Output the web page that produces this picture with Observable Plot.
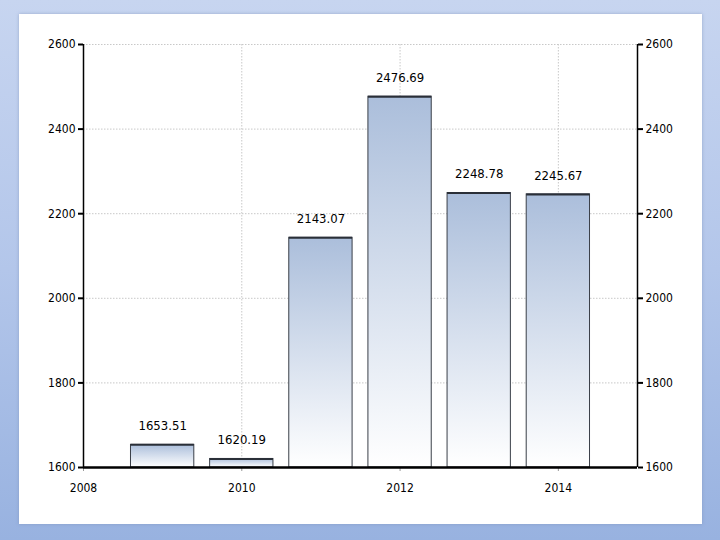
<!DOCTYPE html>
<html>
<head>
<meta charset="utf-8">
<script src="https://cdn.jsdelivr.net/npm/d3@7"></script>
<script src="https://cdn.jsdelivr.net/npm/@observablehq/plot@0.6"></script>
<style>
  html, body { margin: 0; padding: 0; }
  body { width: 720px; height: 540px; overflow: hidden; position: relative;
         background: linear-gradient(to bottom, #c7d5f0 0%, #b3c6ea 50%, #98b2e0 100%); }
  #panel { position: absolute; left: 19px; top: 14px; width: 683px; height: 510px;
           background: #ffffff; box-shadow: 0 0 3px rgba(120,140,180,0.6); }
  #chart { position: absolute; left: 0; top: 0; }
  #chart svg { background: transparent; font-stretch: condensed; }
  #chart svg text { font-stretch: condensed; }
</style>
</head>
<body>
<div id="panel"></div>
<div id="chart"></div>
<script>
const years = [2009, 2010, 2011, 2012, 2013, 2014];
const values = [1653.51, 1620.19, 2143.07, 2476.69, 2248.78, 2245.67];
const yTicks = [1600, 1800, 2000, 2200, 2400, 2600];
const xTicks = [2008, 2010, 2012, 2014];
const xGrid = [2010, 2012, 2014];
const yGrid = [1800, 2000, 2200, 2400, 2600];

const data = years.map((y, i) => ({year: y, value: values[i], x1: y - 0.4, x2: y + 0.4}));

const font = "'DejaVu Sans', sans-serif";

const defs = () => {
  const ns = "http://www.w3.org/2000/svg";
  const d = document.createElementNS(ns, "defs");
  d.innerHTML = `<linearGradient id="barGrad" x1="0" y1="0" x2="0" y2="1">
      <stop offset="0%" stop-color="#abbedb"/>
      <stop offset="100%" stop-color="#ffffff"/>
    </linearGradient>`;
  return d;
};

const chart = Plot.plot({
  width: 720,
  height: 540,
  marginLeft: 83,
  marginRight: 83,
  marginTop: 44,
  marginBottom: 73,
  style: {fontFamily: font, fontSize: "12px", color: "#000", background: "transparent"},
  x: {domain: [2008, 2015], axis: null},
  y: {domain: [1600, 2600], axis: null},
  marks: [
    defs,
    Plot.ruleY(yGrid, {stroke: "#c8c8c8", strokeDasharray: "1.5,1.5", strokeWidth: 1}),
    Plot.ruleX(xGrid, {stroke: "#c8c8c8", strokeDasharray: "1.5,1.5", strokeWidth: 1}),
    Plot.rectY(data, {x1: "x1", x2: "x2", y1: 1600, y2: "value", fill: "url(#barGrad)", stroke: "#3a3f48", strokeWidth: 1}),
    Plot.ruleY(data, {x1: "x1", x2: "x2", y: "value", stroke: "#2a2f38", strokeWidth: 2}),
    Plot.text(data, {x: "year", y: "value", text: d => d.value.toFixed(2), dy: -19, fill: "#000", fontSize: 13}),
    Plot.axisY(yTicks, {anchor: "left", label: null, tickSize: 5, tickPadding: 3, tickFormat: d => String(d), stroke: "#000", strokeWidth: 2, fontSize: 12}),
    Plot.axisY(yTicks, {anchor: "right", label: null, tickSize: 5, tickPadding: 3, tickFormat: d => String(d), stroke: "#000", strokeWidth: 2, fontSize: 12}),
    Plot.axisX(xTicks, {anchor: "bottom", label: null, tickSize: 4, tickPadding: 12, tickFormat: d => String(d), stroke: "#999", fontSize: 12}),
    Plot.ruleX([2008, 2015], {stroke: "#000", strokeWidth: 1.5}),
    Plot.ruleY([1600], {stroke: "#000", strokeWidth: 2.5})
  ]
});

document.getElementById("chart").appendChild(chart);
</script>
</body>
</html>
